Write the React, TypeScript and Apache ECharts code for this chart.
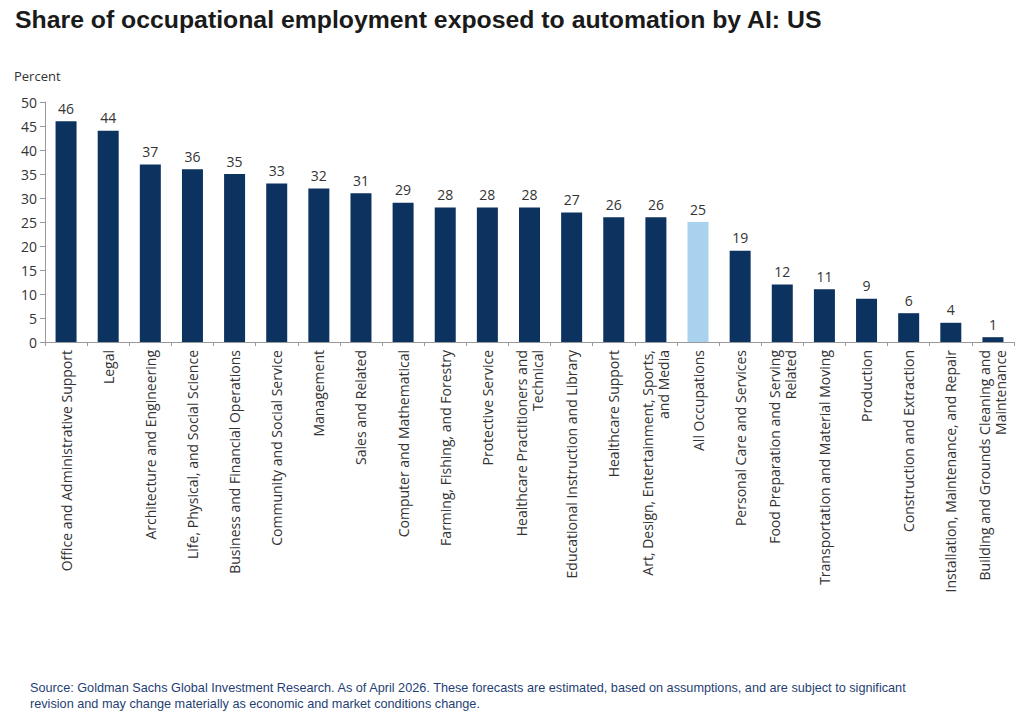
import React, { useEffect, useRef } from "react";
import * as echarts from "echarts";

const categories = [
  "Office and Administrative Support",
  "Legal",
  "Architecture and Engineering",
  "Life, Physical, and Social Science",
  "Business and Financial Operations",
  "Community and Social Service",
  "Management",
  "Sales and Related",
  "Computer and Mathematical",
  "Farming, Fishing, and Forestry",
  "Protective Service",
  "Healthcare Practitioners and\nTechnical",
  "Educational Instruction and Library",
  "Healthcare Support",
  "Art, Design, Entertainment, Sports,\nand Media",
  "All Occupations",
  "Personal Care and Services",
  "Food Preparation and Serving\nRelated",
  "Transportation and Material Moving",
  "Production",
  "Construction and Extraction",
  "Installation, Maintenance, and Repair",
  "Building and Grounds Cleaning and\nMaintenance",
];

const values = [46, 44, 37, 36, 35, 33, 32, 31, 29, 28, 28, 28, 27, 26, 26, 25, 19, 12, 11, 9, 6, 4, 1];

const highlightCategory = "All Occupations";

const title = "Share of occupational employment exposed to automation by AI: US";
const unitLabel = "Percent";
const footerLines = [
  "Source: Goldman Sachs Global Investment Research. As of April 2026. These forecasts are estimated, based on assumptions, and are subject to significant",
  "revision and may change materially as economic and market conditions change.",
];

export default function App() {
  const ref = useRef<HTMLDivElement>(null);
  useEffect(() => {
    document.body.style.margin = "0";
    const chart = echarts.init(ref.current!, null, { renderer: "svg" });
    const dark = "#0c3260";
    const light = "#a9d2ef";
    chart.setOption({
      animation: false,
      backgroundColor: "#ffffff",
      grid: { left: 45, right: 10, top: 102, bottom: 372, containLabel: false },
      xAxis: {
        type: "category",
        data: categories,
        axisLine: { lineStyle: { color: "#999999", width: 1 } },
        axisTick: { show: true, alignWithLabel: false, length: 4, lineStyle: { color: "#999999" } },
        axisLabel: {
          interval: 0,
          rotate: 90,
          fontSize: 14,
          color: "#333333",
          fontFamily: "Open Sans, sans-serif",
          lineHeight: 16,
          margin: 8,
        },
      },
      yAxis: {
        type: "value",
        min: 0,
        max: 50,
        interval: 5,
        splitLine: { show: false },
        axisLine: { show: true, lineStyle: { color: "#999999" } },
        axisTick: { show: true, length: 5, lineStyle: { color: "#999999" } },
        axisLabel: { fontSize: 14, color: "#333333", fontFamily: "Open Sans, sans-serif", margin: 8 },
      },
      series: [
        {
          type: "bar",
          barWidth: 21,
          data: values.map((v, i) => ({
            value: v,
            itemStyle: { color: categories[i] === highlightCategory ? light : dark },
          })),
          label: {
            show: true,
            position: "top",
            distance: 6,
            fontSize: 14,
            color: "#333333",
            fontFamily: "Open Sans, sans-serif",
          },
        },
      ],
      graphic: [
        {
          type: "text",
          left: 15,
          top: 7,
          style: {
            text: title,
            font: "bold 24.8px 'Liberation Sans', Arial, sans-serif",
            fill: "#1a1a1a",
          },
        },
        {
          type: "text",
          left: 14,
          top: 69,
          style: {
            text: unitLabel,
            font: "13px 'Open Sans', sans-serif",
            fill: "#333333",
          },
        },
        {
          type: "text",
          left: 30,
          top: 680,
          style: {
            text: footerLines.join("\n"),
            font: "12.7px 'Liberation Sans', Arial, sans-serif",
            lineHeight: 16,
            fill: "#1f3f74",
          },
        },
      ],
    });
    return () => chart.dispose();
  }, []);
  return <div ref={ref} style={{ width: 1024, height: 714 }} />;
}
